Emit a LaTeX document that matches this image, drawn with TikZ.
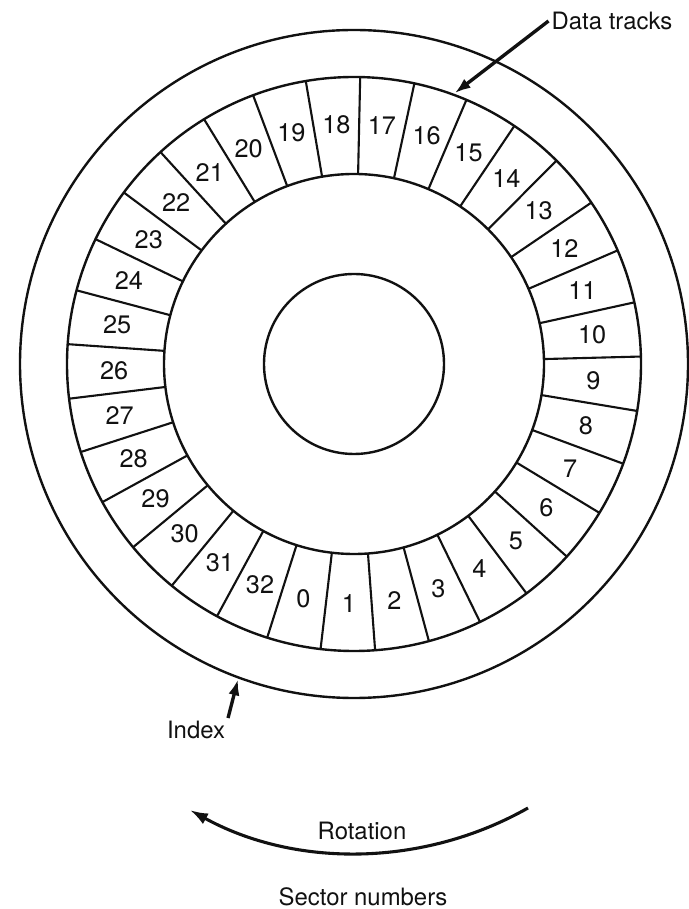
\documentclass[tikz,border=0pt]{standalone}
\usepackage{fontspec}
\setmainfont{TeX Gyre Heros}
\usepackage{tikz}
\usetikzlibrary{arrows.meta,calc}
\definecolor{ink}{HTML}{111111}
\tikzset{
  disk/.style={draw=ink, line width=1.7pt},
  sectorline/.style={draw=ink, line width=1.5pt},
  sectorlabel/.style={text=ink, inner sep=0pt, font=\fontsize{18}{20}\selectfont},
  callout/.style={text=ink, inner sep=2pt, font=\fontsize{17}{19}\selectfont},
  pointer/.style={-{Latex[length=4mm,width=2.8mm]}, line width=2.4pt, draw=ink},
  turnarrow/.style={-{Latex[length=4.5mm,width=3mm]}, line width=2.2pt, draw=ink}
}

\begin{document}
\begin{tikzpicture}[x=0.025cm,y=0.025cm]
\useasboundingbox (0,0) rectangle (689,909);
\coordinate (hub) at (354,545);

% platter, track ring and spindle
\draw[disk] (hub) circle[radius=334];
\draw[disk] (hub) circle[radius=287];
\draw[disk] (hub) circle[radius=190];
\draw[disk] (hub) circle[radius=90];

% sector boundaries and numbers
\foreach \k in {0,...,32}{
  \pgfmathsetmacro{\ang}{-107.6+\k*360/33}
  \draw[sectorline] ($(hub)+(\ang:190)$) -- ($(hub)+(\ang:287)$);
  \node[sectorlabel] (s\k) at ($(hub)+(\ang+5.45:240)$) {\k};
}

% callouts
\node[callout] (tracks) at (612,888) {Data tracks};
\coordinate (trackedge) at ($(hub)+(69.6:289)$);
\draw[pointer] (tracks.west) -- (trackedge);

\node[callout] (index) at (196,179) {Index};
\coordinate (indexmark) at ($(hub)+(-110.2:336)$);
\draw[pointer] (index.north east) -- (indexmark);

\node[callout] (rotation) at (362,78) {Rotation};
\coordinate (turnstart) at (528,101);
\draw[turnarrow] (turnstart) arc[start angle=-60.5, end angle=-118.8, radius=347];

\node[callout, anchor=south] (sectors) at (363,0) {Sector numbers};
\end{tikzpicture}
\end{document}
